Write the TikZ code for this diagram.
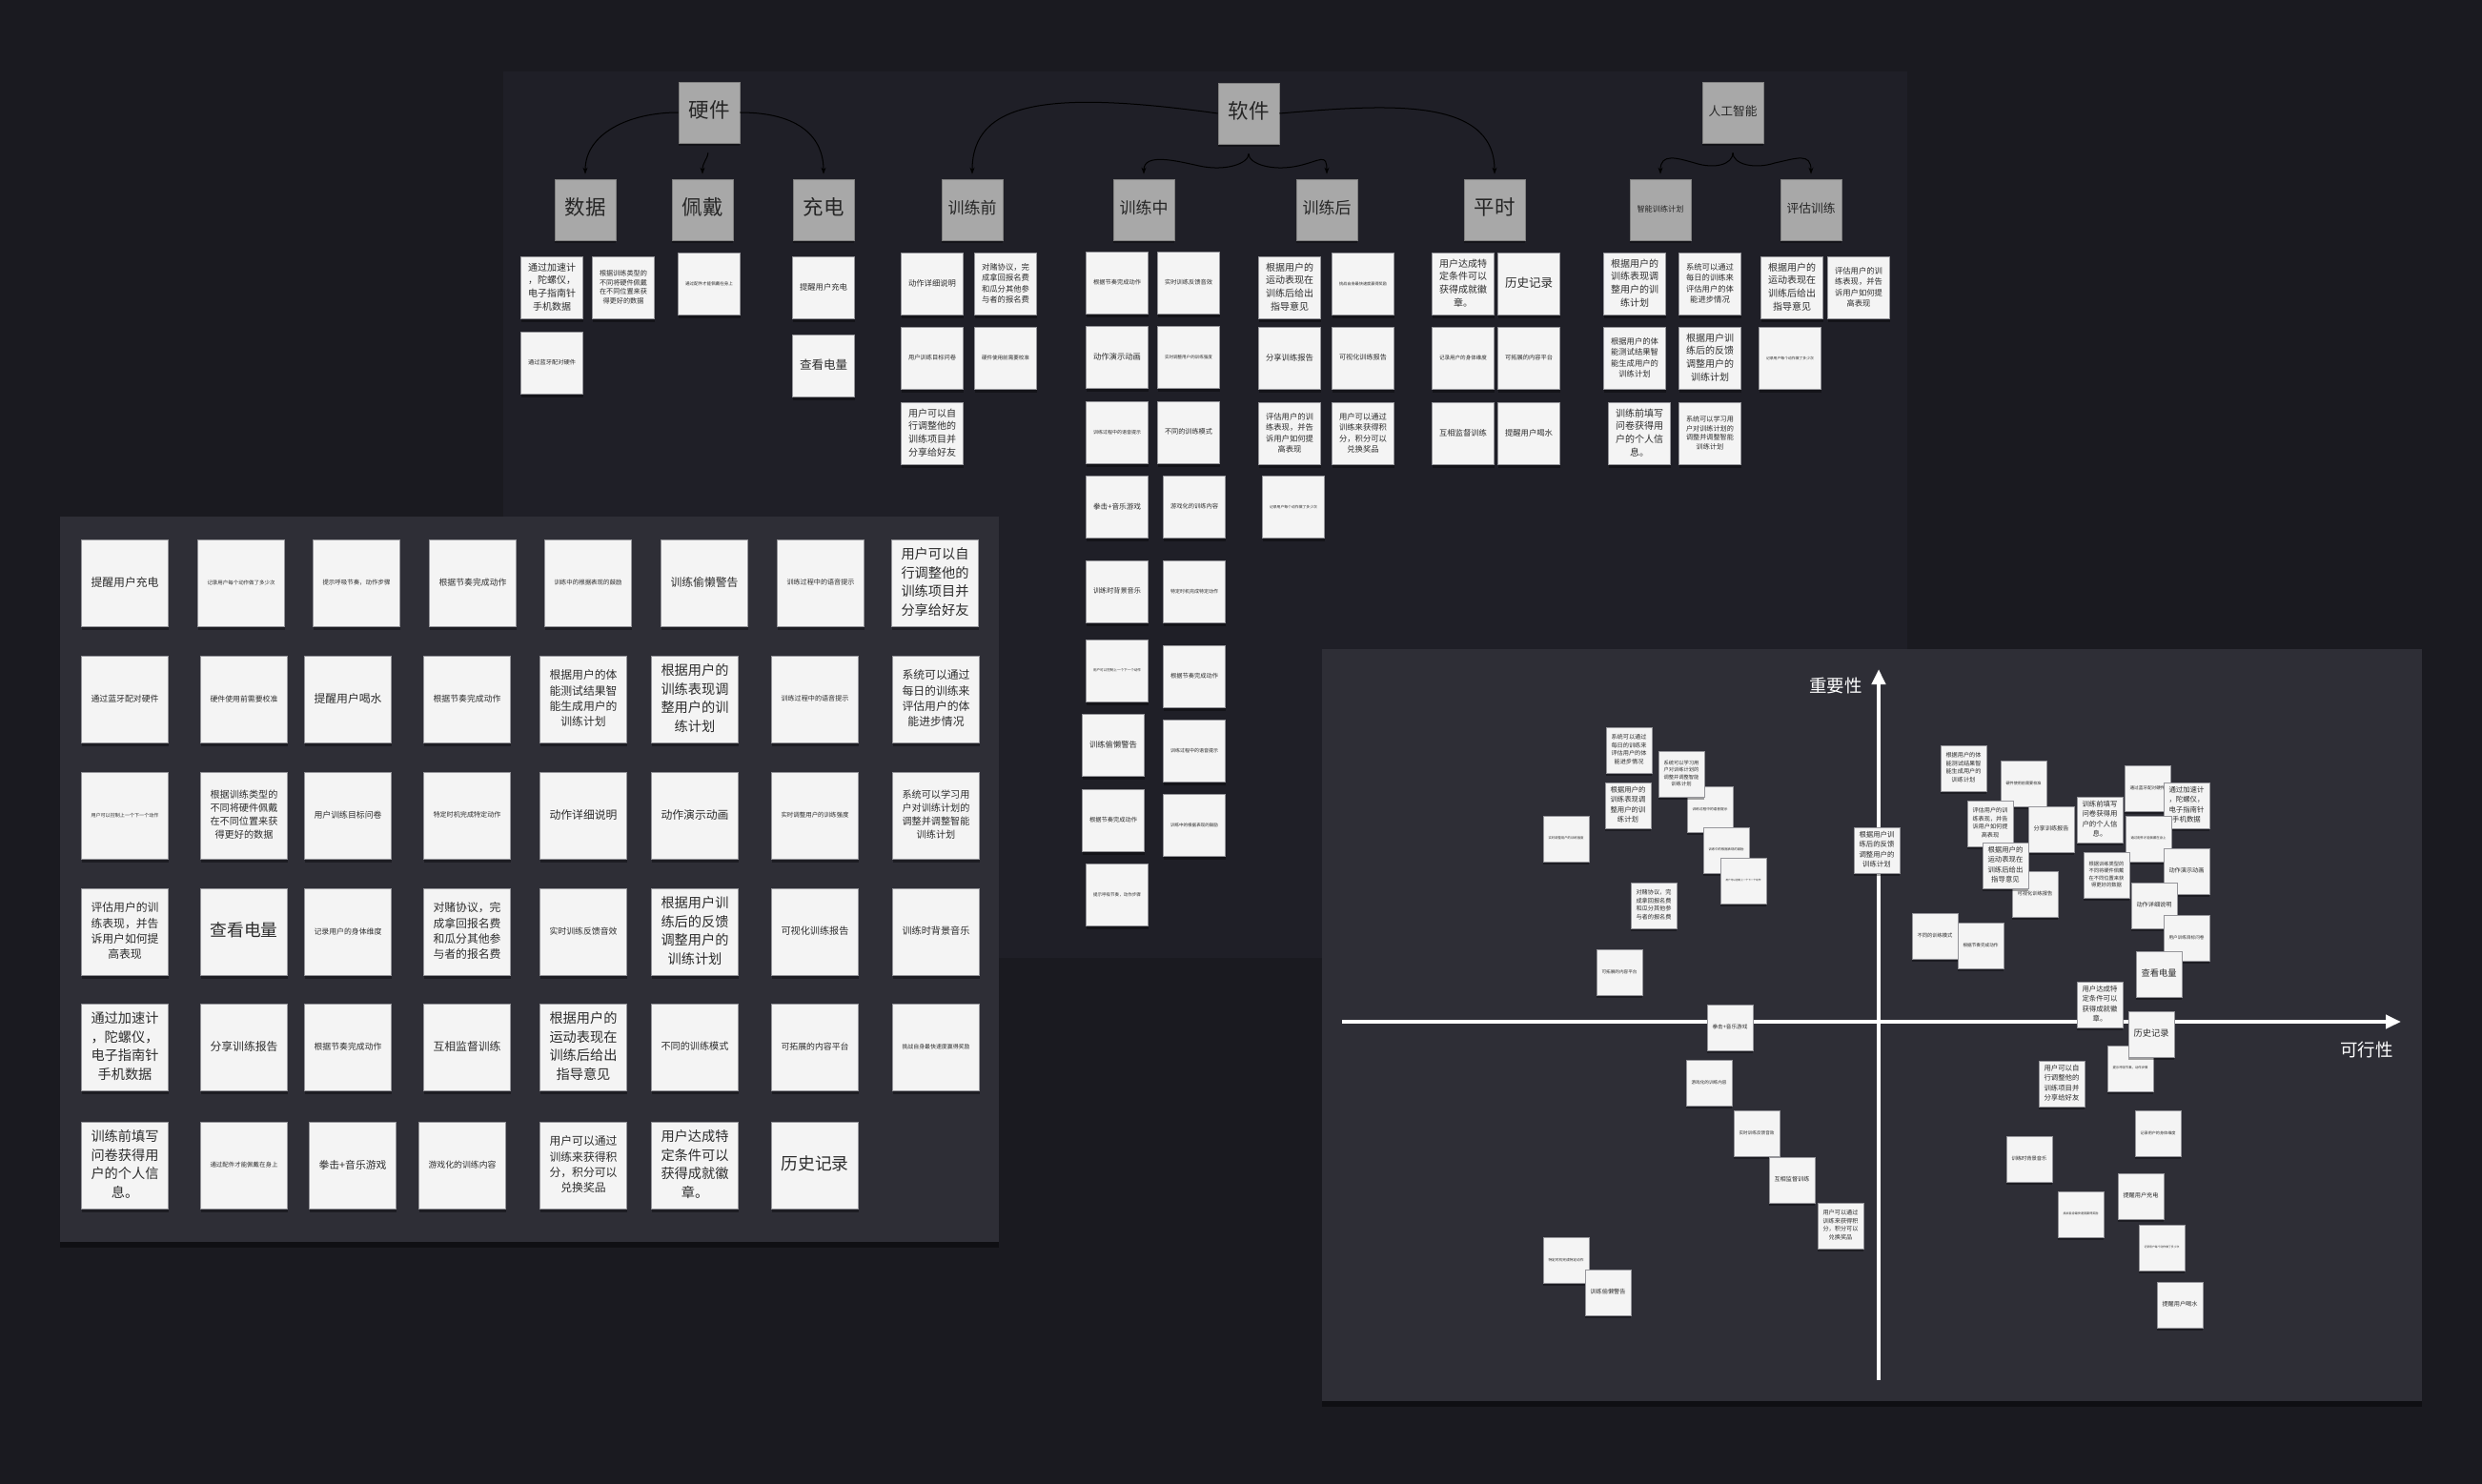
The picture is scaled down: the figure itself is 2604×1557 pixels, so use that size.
\documentclass[tikz,border=0pt]{standalone}
\usepackage{fontspec}
\usepackage{graphicx}
\usepackage{tikz}
\usetikzlibrary{arrows.meta,shadows}
\newfontfamily\zhfont{Noto Sans CJK SC}
\definecolor{pagebg}{RGB}{26,26,32}
\definecolor{topbg}{RGB}{31,31,39}
\definecolor{sidebg}{RGB}{46,46,54}
\definecolor{notefill}{RGB}{244,244,244}
\definecolor{notebd}{RGB}{150,150,155}
\definecolor{headfill}{RGB}{168,168,168}
\definecolor{notetxt}{RGB}{45,45,45}
\newlength\tw
\newcommand\notetext[2][\tw]{\resizebox{#1}{!}{\begin{tabular}{@{}c@{}}#2\end{tabular}}}
\renewcommand\arraystretch{1.15}
\tikzset{
  sticky/.style={draw=notebd, line width=0.7pt, fill=notefill, inner sep=0pt,
    text=notetxt, font=\zhfont,
    drop shadow={shadow xshift=0pt, shadow yshift=-3pt, opacity=0.35, fill=black}},
  topnote/.style={sticky, minimum size=65pt},
  bignote/.style={sticky, minimum size=91pt},
  smallnote/.style={sticky, minimum size=48pt},
  head/.style={sticky, fill=headfill, draw=gray, minimum size=64pt, text=black!85},
  link/.style={line width=1pt, draw=black, -{Stealth[length=7pt,width=5pt]}, shorten >=5pt},
  axis/.style={line width=4pt, draw=white, -{Triangle[length=16pt,width=14pt]}},
  axislabel/.style={text=white, font=\zhfont\fontsize{18.5}{20}\selectfont},
  board/.style={drop shadow={shadow xshift=0pt, shadow yshift=-6pt, opacity=0.4, fill=black}}
}
\begin{document}
\begin{tikzpicture}[x=1pt, y=-1pt]
  \useasboundingbox (0,0) rectangle (2604,1557);
  \fill[pagebg] (0,0) rectangle (2604,1557);

  % top board: hardware / software / AI
  \fill[topbg] (528,75) rectangle (2001,1005);
  \node[head] (hw)     at (744,118)  {\notetext[43pt]{硬件}};
  \node[head] (sjdata) at (614,220)  {\notetext[43pt]{数据}};
  \node[head] (pd)     at (737,220)  {\notetext[43pt]{佩戴}};
  \node[head] (cd)     at (864,220)  {\notetext[43pt]{充电}};
  \node[head] (sw)     at (1310,119) {\notetext[43pt]{软件}};
  \node[head] (pre)    at (1020,220) {\notetext[51pt]{训练前}};
  \node[head] (mid)    at (1200,220) {\notetext[51pt]{训练中}};
  \node[head] (post)   at (1392,220) {\notetext[51pt]{训练后}};
  \node[head] (daily)  at (1568,220) {\notetext[43pt]{平时}};
  \node[head] (ai)     at (1818,118) {\notetext[51pt]{人工智能}};
  \node[head] (plan)   at (1742,220) {\notetext[49pt]{智能训练计划}};
  \node[head] (eval)   at (1900,220) {\notetext[51pt]{评估训练}};

  \coordinate (swL) at (1258,174);
  \coordinate (swR) at (1362,174);
  \coordinate (aiL) at (1778,171);
  \coordinate (aiR) at (1862,171);
  \draw[link] (hw.west) .. controls (660,118) and (614,140) .. (sjdata.north);
  \draw[link, shorten <=10pt] (hw.south) .. controls (742,168) and (737,170) .. (pd.north);
  \draw[link] (hw.east) .. controls (840,118) and (864,145) .. (cd.north);
  \draw[link] (sw.west) .. controls (1098,94) and (1020,107) .. (pre.north);
  \draw[link, shorten <=10pt] (sw.south) .. controls (1310,172) and (1285,180) .. (swL)
    .. controls (1235,169) and (1200,160) .. (mid.north);
  \draw[link, shorten <=10pt] (sw.south) .. controls (1310,172) and (1335,180) .. (swR)
    .. controls (1385,169) and (1392,160) .. (post.north);
  \draw[link] (sw.east) .. controls (1450,110) and (1568,100) .. (daily.north);
  \draw[link, shorten <=10pt] (ai.south) .. controls (1818,172) and (1800,178) .. (aiL)
    .. controls (1760,166) and (1742,160) .. (plan.north);
  \draw[link, shorten <=10pt] (ai.south) .. controls (1818,172) and (1840,178) .. (aiR)
    .. controls (1885,166) and (1900,160) .. (eval.north);

  \setlength\tw{50pt}
  % hardware
  \node[topnote] (t1) at (579,302) {\notetext{通过加速计\\，陀螺仪，\\电子指南针\\手机数据}};
  \node[topnote] (t2) at (654,302) {\notetext{根据训练类型的\\不同将硬件佩戴\\在不同位置来获\\得更好的数据}};
  \node[topnote] (t3) at (579,381) {\notetext{通过蓝牙配对硬件}};
  \node[topnote] (t4) at (744,298) {\notetext{通过配件才能佩戴在身上}};
  \node[topnote] (t5) at (864,302) {\notetext{提醒用户充电}};
  \node[topnote] (t6) at (864,384) {\notetext{查看电量}};
  % before training
  \node[topnote] (t7)  at (978,298)  {\notetext{动作详细说明}};
  \node[topnote] (t8)  at (1055,298) {\notetext{对赌协议，完\\成拿回报名费\\和瓜分其他参\\与者的报名费}};
  \node[topnote] (t9)  at (978,376)  {\notetext{用户训练目标问卷}};
  \node[topnote] (t10) at (1055,376) {\notetext{硬件使用前需要校准}};
  \node[topnote] (t11) at (978,455)  {\notetext{用户可以自\\行调整他的\\训练项目并\\分享给好友}};
  % during training
  \node[topnote] (m1) at (1172,297) {\notetext{根据节奏完成动作}};
  \node[topnote] (m2) at (1172,375) {\notetext{动作演示动画}};
  \node[topnote] (m3) at (1172,454) {\notetext{训练过程中的语音提示}};
  \node[topnote] (m4) at (1172,532) {\notetext{拳击+音乐游戏}};
  \node[topnote] (m5) at (1172,621) {\notetext{训练时背景音乐}};
  \node[topnote] (m6) at (1172,704) {\notetext{用户可以控制上一个下一个动作}};
  \node[topnote] (m7) at (1168,782) {\notetext{训练偷懒警告}};
  \node[topnote] (m8) at (1168,861) {\notetext{根据节奏完成动作}};
  \node[topnote] (m9) at (1172,939) {\notetext{提示呼吸节奏，动作步骤}};
  \node[topnote] (n1) at (1247,297) {\notetext{实时训练反馈音效}};
  \node[topnote] (n2) at (1247,375) {\notetext{实时调整用户的训练强度}};
  \node[topnote] (n3) at (1247,454) {\notetext{不同的训练模式}};
  \node[topnote] (n4) at (1253,532) {\notetext{游戏化的训练内容}};
  \node[topnote] (n5) at (1253,621) {\notetext{特定时机完成特定动作}};
  \node[topnote] (n6) at (1253,710) {\notetext{根据节奏完成动作}};
  \node[topnote] (n7) at (1253,788) {\notetext{训练过程中的语音提示}};
  \node[topnote] (n8) at (1253,866) {\notetext{训练中的根据表现的鼓励}};
  % after training
  \node[topnote] (p1) at (1353,302) {\notetext{根据用户的\\运动表现在\\训练后给出\\指导意见}};
  \node[topnote] (p2) at (1430,298) {\notetext{挑战自身最快速度赢得奖励}};
  \node[topnote] (p3) at (1353,376) {\notetext{分享训练报告}};
  \node[topnote] (p4) at (1430,376) {\notetext{可视化训练报告}};
  \node[topnote] (p5) at (1353,455) {\notetext{评估用户的训\\练表现，并告\\诉用户如何提\\高表现}};
  \node[topnote] (p6) at (1430,455) {\notetext{用户可以通过\\训练来获得积\\分，积分可以\\兑换奖品}};
  \node[topnote] (p7) at (1357,532) {\notetext{记录用户每个动作做了多少次}};
  % daily
  \node[topnote] (d1) at (1535,298) {\notetext{用户达成特\\定条件可以\\获得成就徽\\章。}};
  \node[topnote] (d2) at (1604,298) {\notetext{历史记录}};
  \node[topnote] (d3) at (1535,376) {\notetext{记录用户的身体维度}};
  \node[topnote] (d4) at (1604,376) {\notetext{可拓展的内容平台}};
  \node[topnote] (d5) at (1535,455) {\notetext{互相监督训练}};
  \node[topnote] (d6) at (1604,455) {\notetext{提醒用户喝水}};
  % smart plan
  \node[topnote] (a1) at (1715,298) {\notetext{根据用户的\\训练表现调\\整用户的训\\练计划}};
  \node[topnote] (a2) at (1794,298) {\notetext{系统可以通过\\每日的训练来\\评估用户的体\\能进步情况}};
  \node[topnote] (a3) at (1715,376) {\notetext{根据用户的体\\能测试结果智\\能生成用户的\\训练计划}};
  \node[topnote] (a4) at (1794,376) {\notetext{根据用户训\\练后的反馈\\调整用户的\\训练计划}};
  \node[topnote] (a5) at (1720,455) {\notetext{训练前填写\\问卷获得用\\户的个人信\\息。}};
  \node[topnote] (a6) at (1794,455) {\notetext{系统可以学习用\\户对训练计划的\\调整并调整智能\\训练计划}};
  % evaluation
  \node[topnote] (e1) at (1880,302) {\notetext{根据用户的\\运动表现在\\训练后给出\\指导意见}};
  \node[topnote] (e2) at (1950,302) {\notetext{评估用户的训\\练表现，并告\\诉用户如何提\\高表现}};
  \node[topnote] (e3) at (1878,376) {\notetext{记录用户每个动作做了多少次}};

  % left board: all ideas
  \fill[board, sidebg] (63,542) rectangle (1048,1303);
  \setlength\tw{71pt}
  \node[bignote] (l11) at (131,612) {\notetext{提醒用户充电}};
  \node[bignote] (l12) at (253,612) {\notetext{记录用户每个动作做了多少次}};
  \node[bignote] (l13) at (374,612) {\notetext{提示呼吸节奏，动作步骤}};
  \node[bignote] (l14) at (496,612) {\notetext{根据节奏完成动作}};
  \node[bignote] (l15) at (617,612) {\notetext{训练中的根据表现的鼓励}};
  \node[bignote] (l16) at (739,612) {\notetext{训练偷懒警告}};
  \node[bignote] (l17) at (861,612) {\notetext{训练过程中的语音提示}};
  \node[bignote] (l18) at (981,612) {\notetext{用户可以自\\行调整他的\\训练项目并\\分享给好友}};
  \node[bignote] (l21) at (131,734) {\notetext{通过蓝牙配对硬件}};
  \node[bignote] (l22) at (256,734) {\notetext{硬件使用前需要校准}};
  \node[bignote] (l23) at (365,734) {\notetext{提醒用户喝水}};
  \node[bignote] (l24) at (490,734) {\notetext{根据节奏完成动作}};
  \node[bignote] (l25) at (612,734) {\notetext{根据用户的体\\能测试结果智\\能生成用户的\\训练计划}};
  \node[bignote] (l26) at (729,734) {\notetext{根据用户的\\训练表现调\\整用户的训\\练计划}};
  \node[bignote] (l27) at (855,734) {\notetext{训练过程中的语音提示}};
  \node[bignote] (l28) at (982,734) {\notetext{系统可以通过\\每日的训练来\\评估用户的体\\能进步情况}};
  \node[bignote] (l31) at (131,856) {\notetext{用户可以控制上一个下一个动作}};
  \node[bignote] (l32) at (256,856) {\notetext{根据训练类型的\\不同将硬件佩戴\\在不同位置来获\\得更好的数据}};
  \node[bignote] (l33) at (365,856) {\notetext{用户训练目标问卷}};
  \node[bignote] (l34) at (490,856) {\notetext{特定时机完成特定动作}};
  \node[bignote] (l35) at (612,856) {\notetext{动作详细说明}};
  \node[bignote] (l36) at (729,856) {\notetext{动作演示动画}};
  \node[bignote] (l37) at (855,856) {\notetext{实时调整用户的训练强度}};
  \node[bignote] (l38) at (982,856) {\notetext{系统可以学习用\\户对训练计划的\\调整并调整智能\\训练计划}};
  \node[bignote] (l41) at (131,978) {\notetext{评估用户的训\\练表现，并告\\诉用户如何提\\高表现}};
  \node[bignote] (l42) at (256,978) {\notetext{查看电量}};
  \node[bignote] (l43) at (365,978) {\notetext{记录用户的身体维度}};
  \node[bignote] (l44) at (490,978) {\notetext{对赌协议，完\\成拿回报名费\\和瓜分其他参\\与者的报名费}};
  \node[bignote] (l45) at (612,978) {\notetext{实时训练反馈音效}};
  \node[bignote] (l46) at (729,978) {\notetext{根据用户训\\练后的反馈\\调整用户的\\训练计划}};
  \node[bignote] (l47) at (855,978) {\notetext{可视化训练报告}};
  \node[bignote] (l48) at (982,978) {\notetext{训练时背景音乐}};
  \node[bignote] (l51) at (131,1099) {\notetext{通过加速计\\，陀螺仪，\\电子指南针\\手机数据}};
  \node[bignote] (l52) at (256,1099) {\notetext{分享训练报告}};
  \node[bignote] (l53) at (365,1099) {\notetext{根据节奏完成动作}};
  \node[bignote] (l54) at (490,1099) {\notetext{互相监督训练}};
  \node[bignote] (l55) at (612,1099) {\notetext{根据用户的\\运动表现在\\训练后给出\\指导意见}};
  \node[bignote] (l56) at (729,1099) {\notetext{不同的训练模式}};
  \node[bignote] (l57) at (855,1099) {\notetext{可拓展的内容平台}};
  \node[bignote] (l58) at (982,1099) {\notetext{挑战自身最快速度赢得奖励}};
  \node[bignote] (l61) at (131,1223) {\notetext{训练前填写\\问卷获得用\\户的个人信\\息。}};
  \node[bignote] (l62) at (256,1223) {\notetext{通过配件才能佩戴在身上}};
  \node[bignote] (l63) at (370,1223) {\notetext{拳击+音乐游戏}};
  \node[bignote] (l64) at (485,1223) {\notetext{游戏化的训练内容}};
  \node[bignote] (l65) at (612,1223) {\notetext{用户可以通过\\训练来获得积\\分，积分可以\\兑换奖品}};
  \node[bignote] (l66) at (729,1223) {\notetext{用户达成特\\定条件可以\\获得成就徽\\章。}};
  \node[bignote] (l67) at (855,1223) {\notetext{历史记录}};

  % right board: feasibility / importance chart
  \fill[board, sidebg] (1387,681) rectangle (2541,1470);
  \coordinate (ybot) at (1971,1448);
  \coordinate (ytop) at (1971,702);
  \coordinate (xleft) at (1408,1072);
  \coordinate (xright) at (2519,1072);
  \draw[axis] (ybot) -- (ytop);
  \draw[axis] (xleft) -- (xright);
  \node[axislabel] (imp) at (1926,719) {重要性};
  \node[axislabel] (fea) at (2483,1101) {可行性};

  \setlength\tw{37pt}
  \node[smallnote] (r7)  at (1643,880)  {\notetext{实时调整用户的训练强度}};
  \node[smallnote] (r1)  at (1709,787)  {\notetext{系统可以通过\\每日的训练来\\评估用户的体\\能进步情况}};
  \node[smallnote] (r3)  at (1708,845)  {\notetext{根据用户的\\训练表现调\\整用户的训\\练计划}};
  \node[smallnote] (r4)  at (1794,849)  {\notetext{训练过程中的语音提示}};
  \node[smallnote] (r2)  at (1764,812)  {\notetext{系统可以学习用\\户对训练计划的\\调整并调整智能\\训练计划}};
  \node[smallnote] (r5)  at (1811,892)  {\notetext{训练中的根据表现的鼓励}};
  \node[smallnote] (r6)  at (1829,924)  {\notetext{用户可以控制上一个下一个动作}};
  \node[smallnote] (r8)  at (1735,950)  {\notetext{对赌协议，完\\成拿回报名费\\和瓜分其他参\\与者的报名费}};
  \node[smallnote] (r9)  at (1699,1020) {\notetext{可拓展的内容平台}};
  \node[smallnote] (r10) at (1969,892)  {\notetext{根据用户训\\练后的反馈\\调整用户的\\训练计划}};
  \node[smallnote] (r11) at (1815,1078) {\notetext{拳击+音乐游戏}};
  \node[smallnote] (r12) at (1793,1136) {\notetext{游戏化的训练内容}};
  \node[smallnote] (r13) at (1843,1189) {\notetext{实时训练反馈音效}};
  \node[smallnote] (r14) at (1880,1238) {\notetext{互相监督训练}};
  \node[smallnote] (r15) at (1931,1286) {\notetext{用户可以通过\\训练来获得积\\分，积分可以\\兑换奖品}};
  \node[smallnote] (r16) at (1643,1322) {\notetext{特定时机完成特定动作}};
  \node[smallnote] (r17) at (1687,1356) {\notetext{训练偷懒警告}};
  \node[smallnote] (r18) at (2060,806)  {\notetext{根据用户的体\\能测试结果智\\能生成用户的\\训练计划}};
  \node[smallnote] (r19) at (2123,822)  {\notetext{硬件使用前需要校准}};
  \node[smallnote] (r20) at (2088,864)  {\notetext{评估用户的训\\练表现，并告\\诉用户如何提\\高表现}};
  \node[smallnote] (r21) at (2152,870)  {\notetext{分享训练报告}};
  \node[smallnote] (r23) at (2135,938)  {\notetext{可视化训练报告}};
  \node[smallnote] (r22) at (2104,908)  {\notetext{根据用户的\\运动表现在\\训练后给出\\指导意见}};
  \node[smallnote] (r24) at (2203,860)  {\notetext{训练前填写\\问卷获得用\\户的个人信\\息。}};
  \node[smallnote] (r25) at (2253,827)  {\notetext{通过蓝牙配对硬件}};
  \node[smallnote] (r26) at (2294,845)  {\notetext{通过加速计\\，陀螺仪，\\电子指南针\\手机数据}};
  \node[smallnote] (r27) at (2254,880)  {\notetext{通过配件才能佩戴在身上}};
  \node[smallnote] (r28) at (2210,918)  {\notetext{根据训练类型的\\不同将硬件佩戴\\在不同位置来获\\得更好的数据}};
  \node[smallnote] (r29) at (2294,914)  {\notetext{动作演示动画}};
  \node[smallnote] (r30) at (2260,950)  {\notetext{动作详细说明}};
  \node[smallnote] (r31) at (2294,984)  {\notetext{用户训练目标问卷}};
  \node[smallnote] (r32) at (2265,1022) {\notetext{查看电量}};
  \node[smallnote] (r33) at (2203,1054) {\notetext{用户达成特\\定条件可以\\获得成就徽\\章。}};
  \node[smallnote] (r38) at (2235,1121) {\notetext{提示呼吸节奏，动作步骤}};
  \node[smallnote] (r34) at (2257,1085) {\notetext{历史记录}};
  \node[smallnote] (r35) at (2030,982)  {\notetext{不同的训练模式}};
  \node[smallnote] (r36) at (2078,992)  {\notetext{根据节奏完成动作}};
  \node[smallnote] (r39) at (2163,1137) {\notetext{用户可以自\\行调整他的\\训练项目并\\分享给好友}};
  \node[smallnote] (r40) at (2264,1189) {\notetext{记录用户的身体维度}};
  \node[smallnote] (r41) at (2129,1216) {\notetext{训练时背景音乐}};
  \node[smallnote] (r42) at (2183,1274) {\notetext{挑战自身最快速度赢得奖励}};
  \node[smallnote] (r43) at (2246,1255) {\notetext{提醒用户充电}};
  \node[smallnote] (r44) at (2268,1309) {\notetext{记录用户每个动作做了多少次}};
  \node[smallnote] (r45) at (2287,1369) {\notetext{提醒用户喝水}};
\end{tikzpicture}
\end{document}
